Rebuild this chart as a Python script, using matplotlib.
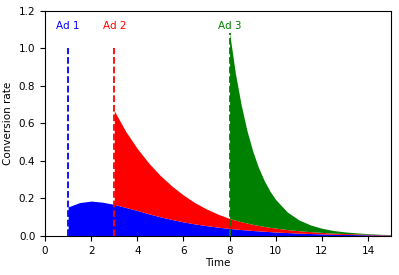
import matplotlib
matplotlib.use("Agg")
import matplotlib.pyplot as plt
import numpy as np

# shared time grid (launch times appear twice so each ad starts with a step)
time = [0, 1, 1, 1.5, 2, 2.5, 3, 3, 3.5, 4, 4.5, 5, 5.5, 6, 6.5, 7, 7.5,
        8, 8, 8.25, 8.5, 8.75, 9, 9.25, 9.5, 9.75, 10, 10.5, 11, 11.5,
        12, 12.5, 13, 13.5, 14, 14.5, 15]

ad1 = [0, 0, 0.155, 0.178, 0.186, 0.180, 0.168, 0.168, 0.152, 0.136, 0.118,
       0.102, 0.088, 0.075, 0.064, 0.055, 0.047, 0.040, 0.040, 0.037, 0.034,
       0.032, 0.029, 0.027, 0.025, 0.023, 0.021, 0.018, 0.015, 0.013, 0.011,
       0.009, 0.008, 0.007, 0.006, 0.005, 0.004]

ad2 = [0, 0, 0, 0, 0, 0, 0, 0.50, 0.405, 0.33, 0.27, 0.22, 0.178, 0.143,
       0.113, 0.089, 0.069, 0.053, 0.053, 0.047, 0.042, 0.037, 0.033, 0.029,
       0.026, 0.023, 0.021, 0.016, 0.013, 0.010, 0.008, 0.006, 0.005, 0.004,
       0.003, 0.002, 0.002]

ad3 = [0, 0, 0, 0, 0, 0, 0, 0, 0, 0, 0, 0, 0, 0, 0, 0, 0, 0, 0.99, 0.785,
       0.625, 0.495, 0.392, 0.31, 0.245, 0.193, 0.152, 0.094, 0.058, 0.036,
       0.022, 0.014, 0.0086, 0.0054, 0.0033, 0.002, 0.0013]

ad_names = ["Ad 1", "Ad 2", "Ad 3"]
ad_times = [1, 3, 8]
ad_line_tops = [1.0, 1.0, 1.08]
colors = ["blue", "red", "green"]

plt.rcParams["font.size"] = 7.5

fig = plt.figure(figsize=(3.99, 2.75), dpi=100)
ax = fig.add_axes([0.113, 0.142, 0.867, 0.818])

t = np.array(time)
base = np.zeros(len(t))
for vals, c in zip([ad1, ad2, ad3], colors):
    top = base + np.array(vals)
    ax.fill_between(t, base, top, color=c, linewidth=0, zorder=2)
    base = top

for name, t0, ytop, c in zip(ad_names, ad_times, ad_line_tops, colors):
    ax.vlines(t0, 0, ytop, colors=c, linestyles="--", linewidth=1.3, zorder=3)
    ax.text(t0, 1.12, name, color=c, ha="center", va="center")

ax.set_xlim(0, 15)
ax.set_ylim(0, 1.2)
ax.set_xticks(np.arange(0, 15, 2))
ax.set_yticks(np.arange(0, 1.21, 0.2))
ax.set_xlabel("Time", labelpad=2)
ax.set_ylabel("Conversion rate", labelpad=4)

fig.savefig("out.png", dpi=100)
